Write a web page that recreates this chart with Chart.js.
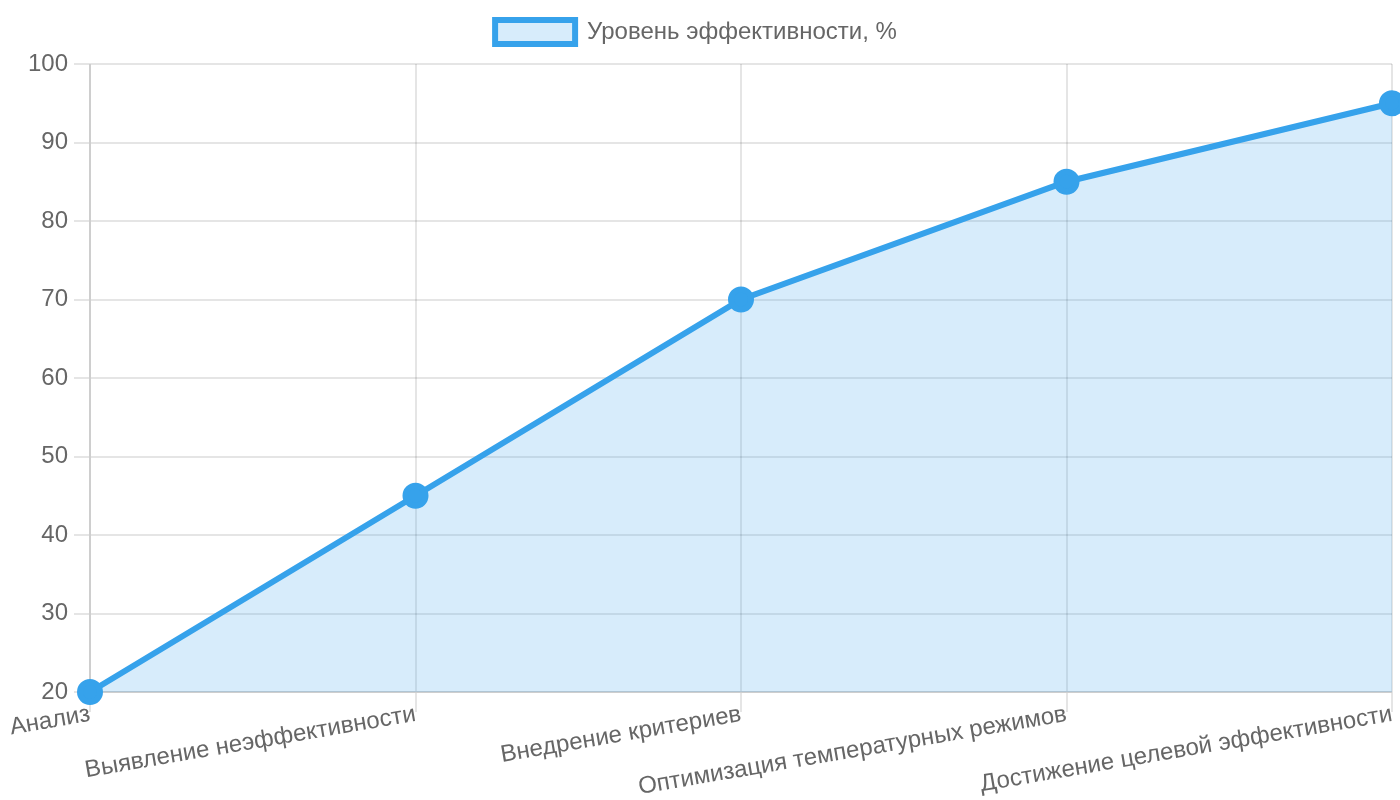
<!DOCTYPE html>
<html>
<head>
<meta charset="utf-8">
<script src="https://cdn.jsdelivr.net/npm/chart.js@4"></script>
<style>
  html, body { margin: 0; padding: 0; background: #fff; }
  /* chart is laid out at 700x400 and drawn at pixel ratio 2, shown at full size */
  #effChart { width: 1400px !important; height: 800px !important; display: block; }
</style>
</head>
<body>
<canvas id="effChart" width="700" height="400"></canvas>
<script>
const stages = ['Анализ', 'Выявление неэффективности', 'Внедрение критериев', 'Оптимизация температурных режимов', 'Достижение целевой эффективности']
const efficiency = [20, 45, 70, 85, 95]

Chart.defaults.font.family = "'Liberation Sans', Arial, sans-serif"

const data = {
    labels: stages,
    datasets: [{
        label: 'Уровень эффективности, %',
        data: efficiency,
        borderColor: '#36A2EB',
        backgroundColor: 'rgba(54, 162, 235, 0.2)',
        borderWidth: 3,
        pointRadius: 5,
        pointHoverRadius: 5,
        pointBackgroundColor: '#36A2EB',
        pointBorderColor: '#36A2EB',
        fill: true,
        tension: 0,
        clip: false
    }]
};

const config = {
    type: 'line',
    data: data,
    options: {
        responsive: false,
        animation: false,
        devicePixelRatio: 2,
        layout: {
            autoPadding: false,
            padding: { right: 4 }
        },
        scales: {
            x: {
                grid: { tickLength: 10 },
                ticks: { padding: -6 },
                afterFit: function (scale) {
                    scale.height = 54
                }
            },
            y: {
                min: 20,
                max: 100,
                ticks: { stepSize: 10 },
                afterFit: function (scale) {
                    scale.width = 45
                }
            }
        }
    }
};

new Chart(document.getElementById('effChart'), config);
</script>
</body>
</html>
